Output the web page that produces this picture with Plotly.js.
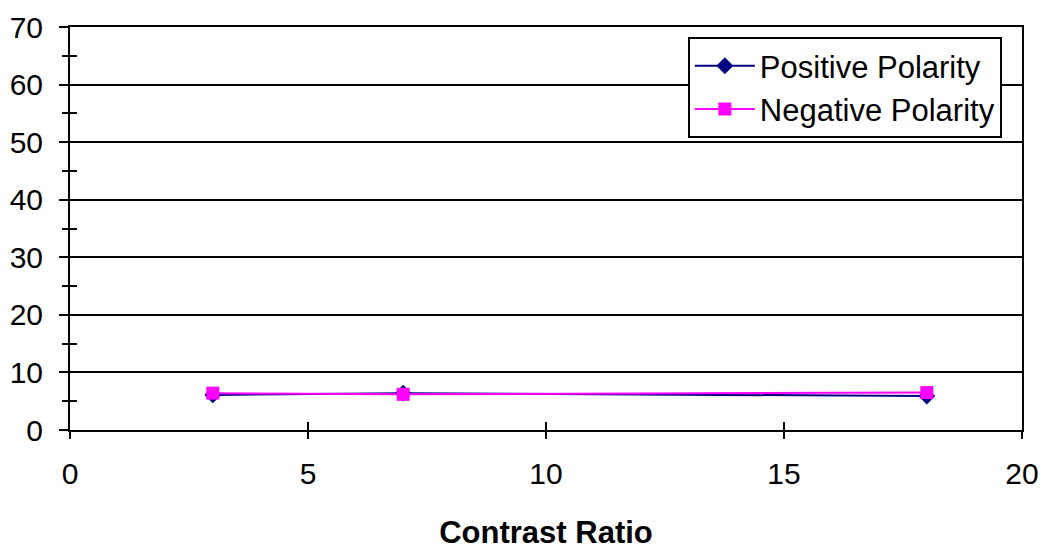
<!DOCTYPE html>
<html><head><meta charset="utf-8">
<script src="https://cdn.plot.ly/plotly-3.0.1.min.js"></script>
<style>body{margin:0;background:#fff}#chart{width:1050px;height:550px}</style>
</head><body><div id="chart"></div>
<script>
const contrastRatio = [3, 7, 18];
const positivePolarity = [6.1, 6.4, 5.9];
const negativePolarity = [6.4, 6.2, 6.5];
const xTicks = [0, 5, 10, 15, 20];
const yTicks = [0, 10, 20, 30, 40, 50, 60, 70];
const yMinorTicks = [5, 15, 25, 35, 45, 55, 65];

const traces = [
  {x: contrastRatio, y: positivePolarity, name: 'Positive Polarity', mode: 'lines+markers',
   legendgroup: 'a', line: {color: '#000080', width: 2},
   marker: {symbol: 'diamond', size: 13, color: '#000080'}},
  {x: contrastRatio, y: negativePolarity, name: 'Negative Polarity', mode: 'lines+markers',
   legendgroup: 'b', line: {color: '#FF00FF', width: 2},
   marker: {symbol: 'square', size: 13, color: '#FF00FF'}},
  {x: [], y: [], xaxis: 'x2', yaxis: 'y2', showlegend: false, hoverinfo: 'skip'}
];

const layout = {
  width: 1050, height: 550,
  margin: {l: 70, r: 28, t: 27, b: 120},
  paper_bgcolor: '#fff', plot_bgcolor: '#fff',
  font: {family: 'Liberation Sans, Arial, sans-serif', size: 30, color: '#000'},
  showlegend: true,
  legend: {x: 0.649, y: 0.975, xanchor: 'left', yanchor: 'top',
           bordercolor: '#000', borderwidth: 2, bgcolor: '#fff', itemwidth: 60,
           font: {size: 31}, traceorder: 'grouped', tracegroupgap: 0},
  xaxis: {range: [0, 20], tickvals: xTicks, ticks: 'outside', ticklen: 7, tickwidth: 2, tickcolor: '#000',
          showline: true, linecolor: '#000', linewidth: 2, mirror: true, showgrid: false, zeroline: false,
          ticklabelstandoff: 9,
          title: {text: '<b>Contrast Ratio</b>', font: {size: 31}, standoff: 33}},
  xaxis2: {range: [0, 20], tickvals: xTicks, ticks: 'inside', ticklen: 8, tickwidth: 2, tickcolor: '#000',
           overlaying: 'x', anchor: 'y', side: 'bottom', showticklabels: false, showgrid: false,
           showline: false, zeroline: false},
  yaxis: {range: [0, 70], tickvals: yTicks, ticks: 'outside', ticklen: 9, tickwidth: 2, tickcolor: '#000',
          showline: true, linecolor: '#000', linewidth: 2, mirror: true,
          showgrid: true, gridcolor: '#000', gridwidth: 2, zeroline: false,
          ticklabelstandoff: 10,
          minor: {dtick: 5, ticks: 'outside', ticklen: 6, tickwidth: 2, tickcolor: '#000', showgrid: false}},
  yaxis2: {range: [0, 70], tickvals: yMinorTicks, ticks: 'inside', ticklen: 7, tickwidth: 2, tickcolor: '#000',
           overlaying: 'y', anchor: 'x', side: 'left', showticklabels: false, showgrid: false,
           showline: false, zeroline: false}
};
Plotly.newPlot('chart', traces, layout, {displayModeBar: false, staticPlot: true});
</script></body></html>
